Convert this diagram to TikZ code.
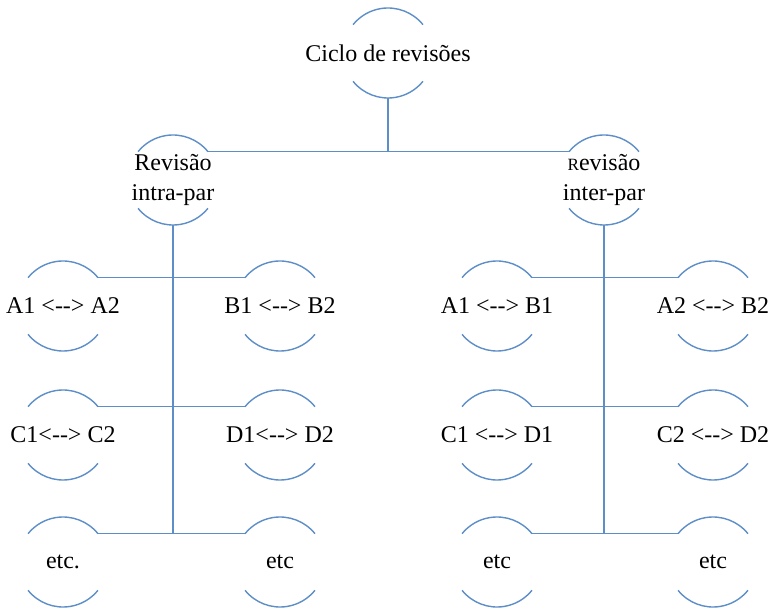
\documentclass[tikz,border=0pt]{standalone}
\usepackage{fontspec}
\setmainfont{Liberation Serif}
\usetikzlibrary{positioning}
\definecolor{arcblue}{RGB}{94,142,200}

\begin{document}
\begin{tikzpicture}[x=0.5pt, y=-0.5pt,
    every label/.style={align=center, inner sep=0pt, font=\fontsize{12}{15}\selectfont},
    arcnode/.style={circle, minimum size=45pt, inner sep=0pt, outer sep=0pt, label={center:#1}},
    link/.style={draw=arcblue, line width=0.7pt}]
    \useasboundingbox (0,0) rectangle (770,608);

    \node[arcnode=Ciclo de revisões] (top) at (388,53) {};
    \node[arcnode=Revisão\\intra-par] (intra) at (173,180) {};
    \node[arcnode={{\fontsize{8.6}{8.6}\selectfont R}evisão\\inter-par}] (inter) at (604,180) {};

    % intra-par
    \node[arcnode=A1 <-{}-> A2] (ab) at (63,306) {};
    \node[arcnode=B1 <-{}-> B2] (bb) at (280,306) {};
    \node[arcnode=C1<-{}-> C2] (cc) at (63,435) {};
    \node[arcnode=D1<-{}-> D2] (dd) at (280,435) {};
    \node[arcnode=etc.] (etcl) at (63,562) {};
    \node[arcnode=etc] (etcr) at (280,562) {};

    % inter-par
    \node[arcnode=A1 <-{}-> B1] (ab2) at (497,306) {};
    \node[arcnode=A2 <-{}-> B2] (ab3) at (713,306) {};
    \node[arcnode=C1 <-{}-> D1] (cd2) at (497,435) {};
    \node[arcnode=C2 <-{}-> D2] (cd3) at (713,435) {};
    \node[arcnode=etc] (etc2) at (497,562) {};
    \node[arcnode=etc] (etc3) at (713,562) {};

    \foreach \n in {top,intra,inter,ab,bb,cc,dd,etcl,etcr,ab2,ab3,cd2,cd3,etc2,etc3} {
      \draw[link] (\n.39) arc[start angle=39, end angle=141, radius=22.5pt];
      \draw[link] (\n.219) arc[start angle=219, end angle=321, radius=22.5pt];
    }

    \draw[link] (top.south) -- (top.south |- intra.39);
    \draw[link] (intra.39) -- (inter.141);

    \draw[link] (intra.south) -- (intra.south |- etcl.39);
    \draw[link] (ab.39) -- (bb.141);
    \draw[link] (cc.39) -- (dd.141);
    \draw[link] (etcl.39) -- (etcr.141);

    \draw[link] (inter.south) -- (inter.south |- etc2.39);
    \draw[link] (ab2.39) -- (ab3.141);
    \draw[link] (cd2.39) -- (cd3.141);
    \draw[link] (etc2.39) -- (etc3.141);
\end{tikzpicture}
\end{document}
